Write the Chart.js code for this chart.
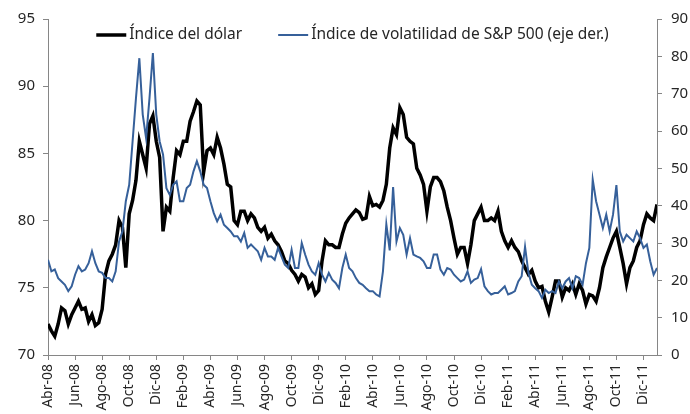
<!DOCTYPE html>
<html>
<head>
<meta charset="utf-8">
<script src="https://cdn.jsdelivr.net/npm/chart.js@4.4.1/dist/chart.umd.min.js"></script>
<style>
  html, body { margin: 0; padding: 0; background: #fff; }
  #wrap { width: 690px; height: 414px; }
</style>
</head>
<body>
<div id="wrap"><canvas id="lineChart" width="690" height="414"></canvas></div>
<script>
// tick labels every two months, first observation at Abr-08
const monthLabels = ["Abr-08", "Jun-08", "Ago-08", "Oct-08", "Dic-08", "Feb-09", "Abr-09", "Jun-09",
    "Ago-09", "Oct-09", "Dic-09", "Feb-10", "Abr-10", "Jun-10", "Ago-10", "Oct-10", "Dic-10",
    "Feb-11", "Abr-11", "Jun-11", "Ago-11", "Oct-11", "Dic-11"];

const obsPerMonth = 4; // roughly weekly readings

// Índice del dólar (left axis)
const dollarIndex = [
    72.3, 71.8, 71.4, 72.3, 73.5, 73.3, 72.3, 73.0, 73.5, 74.0,
    73.4, 73.5, 72.5, 73.0, 72.2, 72.4, 73.4, 76.0, 77.0, 77.5,
    78.2, 80.0, 79.5, 76.5, 80.5, 81.5, 83.0, 85.9, 84.9, 83.9,
    87.2, 87.8, 85.9, 84.7, 79.2, 81.0, 80.7, 83.2, 85.2, 84.9,
    85.9, 85.9, 87.4, 88.1, 88.9, 88.6, 83.6, 85.2, 85.4, 84.9,
    86.2, 85.4, 84.2, 82.7, 82.5, 80.0, 79.7, 80.7, 80.7, 80.0,
    80.5, 80.2, 79.5, 79.2, 79.5, 78.7, 79.0, 78.5, 78.2, 77.7,
    77.0, 76.8, 76.3, 76.0, 75.5, 76.0, 75.8, 75.0, 75.3, 74.5,
    74.8, 77.0, 78.5, 78.2, 78.2, 78.0, 78.0, 79.0, 79.8, 80.2,
    80.5, 80.8, 80.6, 80.1, 80.2, 81.8, 81.1, 81.2, 81.0, 81.5,
    82.7, 85.4, 86.9, 86.4, 88.4, 87.9, 86.2, 85.9, 85.7, 83.9,
    83.4, 82.7, 80.7, 82.5, 83.2, 83.2, 82.9, 82.2, 81.0, 80.0,
    78.7, 77.5, 78.0, 78.0, 76.8, 78.2, 80.0, 80.5, 81.0, 80.0,
    80.0, 80.2, 80.0, 80.7, 79.2, 78.5, 78.0, 78.5, 78.0, 77.7,
    77.0, 76.5, 76.0, 76.3, 75.5, 75.0, 75.1, 74.0, 73.2, 74.3,
    75.5, 75.5, 74.3, 75.0, 74.8, 75.3, 74.5, 75.3, 74.8, 73.8,
    74.5, 74.4, 74.0, 75.0, 76.5, 77.3, 78.0, 78.7, 79.2, 78.0,
    76.8, 75.3, 76.5, 77.0, 78.0, 78.5, 79.7, 80.5, 80.2, 80.0,
    81.2
];

// Índice de volatilidad de S&P 500 (right axis)
const vixIndex = [
    25.5, 22.4, 22.9, 20.6, 19.7, 18.8, 17.1, 18.4, 21.5, 23.8,
    22.4, 22.9, 24.6, 27.8, 24.6, 22.4, 22.0, 20.6, 20.6, 19.7,
    22.4, 30.4, 33.1, 41.2, 45.6, 57.2, 68.8, 79.5, 64.4, 58.1,
    68.8, 80.9, 64.4, 57.2, 53.7, 44.7, 42.9, 45.6, 46.5, 41.2,
    41.2, 44.7, 45.6, 49.2, 51.9, 49.2, 45.6, 44.7, 41.2, 38.0,
    35.8, 37.6, 34.9, 34.0, 33.1, 31.8, 31.8, 30.4, 32.7, 28.7,
    29.6, 28.7, 27.8, 25.5, 28.7, 26.4, 26.4, 25.5, 28.7, 26.4,
    24.2, 23.3, 28.2, 23.3, 23.3, 30.0, 26.9, 24.2, 22.4, 21.5,
    24.6, 21.5, 19.7, 22.0, 20.2, 19.3, 17.9, 23.3, 26.9, 23.3,
    22.4, 20.6, 19.3, 18.8, 17.9, 17.1, 17.1, 16.2, 15.7, 22.4,
    35.0, 28.0, 45.0, 30.4, 34.0, 32.2, 26.9, 31.3, 26.9, 26.4,
    26.0, 25.1, 23.3, 23.3, 26.9, 26.9, 22.9, 21.5, 23.3, 22.9,
    21.5, 20.6, 19.7, 20.2, 22.4, 19.3, 20.2, 20.6, 23.0, 18.4,
    17.1, 16.2, 16.6, 16.6, 17.5, 18.4, 16.2, 16.6, 17.1, 19.7,
    21.1, 29.0, 22.0, 18.8, 17.9, 17.1, 15.3, 17.5, 16.6, 17.1,
    16.6, 19.7, 17.9, 19.7, 20.6, 17.9, 21.1, 20.6, 18.8, 24.6,
    28.7, 47.0, 41.2, 37.6, 34.0, 37.6, 33.1, 37.6, 45.5, 33.1,
    30.4, 32.2, 31.3, 30.4, 33.1, 31.3, 28.7, 29.6, 25.1, 21.5,
    23.3
];

const seriesNames = ["Índice del dólar", "Índice de volatilidad de S&P 500 (eje der.)"];

const FONT = "'Noto Sans', 'DejaVu Sans', sans-serif";
const TEXT = "#262626";
const AXIS = "#868686";

function toPoints(values) {
    return values.map(function (v, i) { return { x: i / obsPerMonth, y: v }; });
}

// legend drawn inside the plot area, centred above the lines
const innerLegend = {
    id: "innerLegend",
    afterDraw(chart) {
        const ctx = chart.ctx;
        const area = chart.chartArea;
        const sample = 30, gap = 3, itemGap = 36, y = 35;
        ctx.save();
        ctx.font = "15.5px " + FONT;
        const widths = chart.data.datasets.map(d => sample + gap + ctx.measureText(d.label).width);
        const total = widths.reduce((a, b) => a + b, 0) + itemGap * (widths.length - 1);
        let x = (area.left + area.right) / 2 - total / 2;
        chart.data.datasets.forEach(function (d, i) {
            ctx.strokeStyle = d.borderColor;
            ctx.lineWidth = d.borderWidth;
            ctx.beginPath();
            ctx.moveTo(x, y);
            ctx.lineTo(x + sample, y);
            ctx.stroke();
            ctx.fillStyle = TEXT;
            ctx.textBaseline = "middle";
            ctx.textAlign = "left";
            ctx.fillText(d.label, x + sample + gap, y);
            x += widths[i] + itemGap;
        });
        ctx.restore();
    }
};

const ctx = document.getElementById("lineChart").getContext("2d");
new Chart(ctx, {
    type: "line",
    data: {
        datasets: [{
            label: seriesNames[0],
            data: toPoints(dollarIndex),
            borderColor: "#000000",
            borderWidth: 3.5,
            pointRadius: 0,
            yAxisID: "y",
            order: 2
        }, {
            label: seriesNames[1],
            data: toPoints(vixIndex),
            borderColor: "#36609a",
            borderWidth: 2,
            pointRadius: 0,
            yAxisID: "y2",
            order: 1
        }]
    },
    options: {
        responsive: false,
        animation: false,
        layout: { padding: { top: 19, left: 0, right: 0, bottom: 0 } },
        plugins: {
            legend: { display: false },
            tooltip: { enabled: false }
        },
        scales: {
            x: {
                type: "linear",
                min: 0,
                max: 45,
                grid: { drawOnChartArea: false, color: AXIS, tickLength: 5 },
                border: { color: AXIS },
                ticks: {
                    autoSkip: false,
                    minRotation: 90,
                    maxRotation: 90,
                    padding: 4,
                    color: TEXT,
                    font: { family: FONT, size: 14 },
                    callback: function (v) { return monthLabels[v / 2]; }
                },
                // one tick every two months
                afterBuildTicks: function (s) {
                    s.ticks = monthLabels.map(function (_, i) { return { value: i * 2 }; });
                },
                afterFit: function (s) { s.height = 59; }
            },
            y: {
                position: "left",
                min: 70,
                max: 95,
                grid: { drawOnChartArea: false, color: AXIS, tickLength: 5 },
                border: { color: AXIS },
                ticks: { stepSize: 5, padding: 8, color: TEXT, font: { family: FONT, size: 15 } },
                afterFit: function (s) { s.width = 48; }
            },
            y2: {
                position: "right",
                min: 0,
                max: 90,
                grid: { drawOnChartArea: false, color: AXIS, tickLength: 5 },
                border: { color: AXIS },
                ticks: { stepSize: 10, padding: 9, color: TEXT, font: { family: FONT, size: 15 } },
                afterFit: function (s) { s.width = 33; }
            }
        }
    },
    plugins: [innerLegend]
});
</script>
</body>
</html>
